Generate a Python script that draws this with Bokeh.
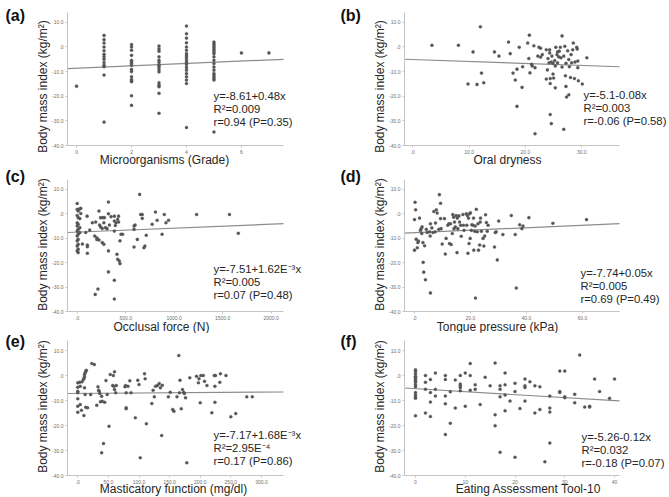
import math
from bokeh.plotting import figure
from bokeh.models import Label, FixedTicker, Range1d
from bokeh.layouts import column, row
from bokeh.embed import file_html
from bokeh.resources import INLINE

FONT = "Liberation Sans"

# ---------------- data ----------------
y_ticks = [-40, -30, -20, -10, 0, 10]
y_tick_labels = ["-40.0", "-30.0", "-20.0", "-10.0", ".0", "10.0"]
y_title = "Body mass index (kg/m²)"

# (a) Microorganisms (Grade)
a_g0 = [-15.9]
a_g1 = [4.7, 3.0, 1.6, 0.0, -1.5, -3.0, -4.0, -5.0, -6.3, -7.4, -8.0, -11.4, -30.5]
a_g2 = [1.0, 0.0, -1.3, -3.4, -5.4, -6.0, -6.7, -7.4, -9.1, -10.0, -12.1, -13.2, -13.7, -14.1, -19.8, -23.7]
a_g3 = [0.4, -0.7, -1.7, -4.0, -5.4, -6.3, -7.4, -8.1, -9.1, -10.1, -14.5, -15.5, -16.1, -18.8, -26.9]
a_g4 = [8.5, 5.4, 3.6, 1.7, 0.0, -1.3, -2.7, -3.6, -4.4, -5.4, -6.3, -7.1, -8.3, -9.4, -10.8, -12.1, -13.4, -14.8, -32.7]
a_g5 = [2.0, 1.3, 0.7, 0.0, -0.7, -1.3, -2.0, -2.7, -4.0, -5.4, -6.7, -8.1, -9.4, -10.8, -11.4, -12.1, -12.8, -13.4, -34.5]
a_g6 = [-2.4]
a_g7 = [-2.4]
a_groups = [a_g0, a_g1, a_g2, a_g3, a_g4, a_g5, a_g6, a_g7]
a_ticks = [0, 2, 4, 6]
a_tick_labels = ["0", "2", "4", "6"]

# (b) Oral dryness
b_points = [(3.4, 0.7), (8.1, 0.7), (10.7, -2.0), (12.0, 8.2), (12.2, -10.6), (9.8, -15.0), (11.4, -15.2),
            (12.6, -14.5), (14.5, -2.0), (15.3, -3.7), (17.0, 2.0), (17.3, -2.7), (17.8, -10.6), (18.2, -13.4),
            (18.5, -9.0), (18.5, -24.1), (18.9, -0.1), (19.5, -8.0), (19.4, -16.4), (20.4, 1.6), (20.7, 4.8),
            (20.6, -4.7), (20.8, -10.5), (21.1, -7.0), (21.2, -7.7), (21.5, 0.5), (21.7, -8.4), (21.7, -35.2),
            (22.2, -3.7), (22.4, -0.1), (22.7, -0.5), (23.0, -3.1), (22.7, -4.1), (23.7, -13.0), (23.9, -9.3),
            (24.0, -4.7), (24.2, -6.4), (24.3, -1.1), (24.3, -2.4), (24.4, -12.8), (24.4, -14.8), (24.4, -27.4),
            (24.6, -31.1), (24.6, -6.1), (24.7, -3.7), (24.9, -6.6), (24.9, -11.0), (25.0, -12.6), (25.2, -5.5),
            (25.3, -16.6), (25.3, -7.7), (25.4, -0.1), (25.6, -3.1), (25.7, -6.4), (25.9, -4.0), (26.0, -1.7),
            (26.2, -0.1), (26.3, -4.4), (26.5, 4.5), (26.5, -8.1), (26.8, -33.4), (26.8, -3.7), (27.0, 0.3),
            (27.1, -11.7), (27.2, -6.6), (27.2, -16.0), (27.3, -20.3), (27.5, -1.5), (27.7, -5.1), (27.7, -19.4),
            (27.8, -8.0), (28.0, -12.4), (28.1, -3.1), (28.2, -6.4), (28.4, -1.1), (28.5, 1.6), (28.7, -12.8),
            (28.8, -6.1), (29.1, -0.1), (29.2, -0.8), (29.3, -5.7), (29.3, -8.4), (29.4, -13.7), (30.1, -15.0),
            (30.9, -4.4), (23.7, -1.1), (25.7, -2.0)]
b_ticks = [0, 10, 20, 30]
b_tick_labels = [".0", "10.0", "20.0", "30.0"]

# (c) Occlusal force (N)
c_points = [(0, 4.2), (0, 1.8), (0, -0.7), (0, -3.7), (0, -5.0), (0, -7.1), (0, -9.1), (0, -11.1), (0, -13.2),
            (0, -15.2), (10, 1.1), (10, -1.6), (10, -4.3), (10, -6.4), (10, -8.4), (10, -10.5), (10, -12.5),
            (10, -14.5), (10, -15.9), (27, 2.0), (27, -2.0), (27, -5.7), (27, -7.7), (37, 2.2), (37, 0.1),
            (54, -12.4), (88, -7.7), (102, -1.0), (105, -12.8), (105, -13.5), (105, -16.2), (129, -6.7),
            (156, -3.7), (180, -9.1), (190, -3.4), (203, -9.8), (203, -10.5), (224, 1.1), (224, -10.7),
            (231, -4.6), (241, -1.6), (241, -5.4), (258, -6.0), (258, -11.8), (264, -1.6), (275, -3.7),
            (275, -12.5), (281, -1.6), (292, -5.7), (308, -6.1), (322, 4.8), (322, 0.0), (322, -15.2),
            (322, -23.8), (332, -4.6), (349, -1.2), (383, -1.0), (383, -3.0), (383, -7.1), (383, -27.2),
            (383, -34.9), (393, -4.8), (400, -3.7), (410, -16.6), (417, -2.3), (417, -18.6), (427, -1.0),
            (427, -3.4), (434, -19.3), (441, -11.1), (441, -20.4), (451, -8.4), (468, -8.4), (186, -33.0),
            (214, -30.8), (586, -13.6), (586, -6.4), (586, -5.0), (597, -4.6), (620, -10.5), (644, 7.9),
            (654, -0.3), (671, -1.9), (671, -0.3), (688, -13.9), (698, -13.2), (712, -8.8), (773, -4.3),
            (807, 0.7), (824, -2.7), (875, -8.4), (898, -0.3), (915, -3.7), (942, -2.7), (1231, -0.3),
            (1570, -0.3), (1661, -8.0)]
c_ticks = [0, 500, 1000, 1500, 2000]
c_tick_labels = [".0", "500.0", "1000.0", "1500.0", "2000.0"]

# (d) Tongue pressure (kPa)
d_points = [(0.0, -2.4), (0.2, 4.7), (0.4, 1.6), (0.6, -10.4), (0.0, -14.9), (1.0, -13.9), (1.2, -11.8),
            (1.4, -11.2), (1.8, -1.8), (2.1, -6.8), (2.4, -6.1), (2.6, -8.1), (2.7, -5.4), (3.0, -11.8),
            (3.1, -19.9), (3.3, -23.9), (3.6, -13.1), (3.9, -27.0), (4.2, -6.4), (4.5, -7.7), (5.4, -7.4),
            (5.7, -4.1), (5.6, -9.1), (5.7, -32.4), (6.2, -5.8), (6.6, -7.7), (6.9, 0.9), (7.4, -7.4),
            (7.5, -3.8), (7.8, 1.6), (8.1, 0.3), (8.7, -6.4), (8.9, 7.8), (9.3, -2.0), (9.3, 4.3), (9.5, -6.1),
            (9.9, -12.4), (10.7, -2.0), (11.0, -16.5), (11.3, -10.1), (11.9, -4.7), (12.3, -4.1), (12.5, -12.2),
            (12.9, -4.1), (13.1, -12.6), (13.5, -8.1), (13.7, -0.3), (14.0, -1.4), (14.1, -6.1), (14.3, -3.4),
            (14.6, -5.4), (14.9, -0.7), (15.2, -15.9), (15.3, -1.8), (15.5, -6.1), (15.9, -0.9), (16.1, -3.4),
            (16.5, -4.7), (16.7, -9.2), (17.3, -0.3), (17.5, -4.7), (17.7, -6.8), (18.5, 0.0), (18.7, -4.7),
            (18.9, -0.7), (19.1, -16.2), (19.3, -1.8), (19.5, -12.2), (19.7, 0.0), (19.9, -10.1), (20.0, 0.4),
            (20.3, -6.8), (20.5, -4.5), (20.9, -4.7), (21.1, -1.8), (21.2, -14.9), (21.5, -7.2), (21.7, -5.0),
            (21.8, -34.5), (22.1, 1.8), (22.4, -7.4), (22.7, -4.1), (22.9, -14.9), (23.3, -12.8), (23.5, -3.4),
            (23.6, -1.8), (23.9, -7.2), (24.5, -10.1), (24.8, -13.2), (25.1, -9.1), (25.4, -0.4), (25.7, -3.6),
            (26.0, -7.2), (26.3, -4.7), (28.6, -13.6), (28.9, -7.7), (29.2, -7.4), (29.6, -18.9), (30.1, -3.0),
            (31.6, -8.5), (34.6, -0.7), (36.0, -8.5), (36.4, -30.4), (37.6, -4.5), (38.4, -6.1), (38.8, -5.0),
            (40.9, -1.6), (49.5, -3.9), (61.5, -2.4)]
d_ticks = [0, 20, 40, 60]
d_tick_labels = [".0", "20.0", "40.0", "60.0"]

# (e) Masticatory function (mg/dl)
e_points = [(0, -2.9), (0, -4.7), (0, -6.3), (0, -6.9), (0, -9.3), (0, -12.3), (0, -14.7), (3, -2.7), (4, -4.3),
            (4, -11.6), (6, -13.9), (10, -16.0), (7, -2.5), (9, -1.6), (10, -1.2), (11, -0.5), (11, 0.4),
            (12, 1.1), (13, 1.6), (14, 2.1), (11, -4.9), (12, -7.6), (13, -12.7), (16, -12.9), (21, -7.6),
            (23, 4.8), (27, 4.4), (31, -11.9), (33, -4.5), (34, -5.9), (35, -6.3), (36, -7.2), (37, -10.5),
            (39, -8.3), (40, -10.3), (42, -27.2), (39, -30.9), (44, -10.7), (46, -2.0), (48, -7.6), (51, -20.3),
            (53, 0.4), (57, -4.0), (58, 0.0), (59, -4.3), (60, -5.6), (60, 1.5), (63, -4.0), (62, -6.9),
            (77, -4.5), (78, -4.0), (79, -6.9), (79, -12.9), (79, -13.3), (82, -4.3), (85, -2.1), (87, -6.9),
            (94, -16.9), (98, -1.9), (100, -3.6), (102, -32.9), (109, 0.7), (110, -1.3), (112, -19.3),
            (121, -11.2), (123, -5.9), (125, -8.5), (127, -4.3), (130, -4.0), (133, -3.2), (137, -24.0),
            (135, -4.9), (138, -3.9), (148, -8.5), (151, -6.7), (155, -13.6), (157, -14.3), (162, -8.5),
            (165, 8.0), (166, -6.9), (167, -1.9), (169, -13.3), (171, -5.6), (173, -6.7), (174, -7.2),
            (176, -8.9), (178, -34.9), (183, -0.9), (194, -0.3), (197, -2.9), (198, -1.3), (201, 0.0),
            (205, 0.0), (200, -10.9), (207, -2.3), (211, -4.0), (219, -14.9), (223, 0.0), (225, 0.0),
            (224, -4.3), (224, -10.7), (232, -2.7), (233, 0.7), (242, 0.0), (250, -16.5), (258, -15.2),
            (276, -8.5), (285, -8.5)]
e_ticks = [0, 50, 100, 150, 200, 250, 300]
e_tick_labels = [".0", "50.0", "100.0", "150.0", "200.0", "250.0", "300.0"]

# (f) Eating Assessment Tool-10
f_points = [(0, 2.3), (0, 1.6), (0, 0.7), (0, -0.3), (0, -0.7), (0, -1.4), (0, -2.0), (0, -2.7), (0, -3.7),
            (0, -4.5), (0, -6.8), (0, -7.8), (0, -8.6), (0, -9.1), (0, -16.1), (2, 0.0), (2, -2.7), (2, -5.5),
            (2, -15.0), (3, -1.6), (3, -6.8), (3, -10.6), (3, -16.4), (4, 1.0), (4, -5.5), (4, -8.2), (6, 0.0),
            (6, -1.6), (6, -8.2), (6, -11.3), (6, -23.6), (7, -6.5), (7, -19.1), (8, -1.8), (8, -13.0),
            (9, 0.0), (9, -3.4), (9, -4.1), (9, -4.8), (9, -6.1), (10, 1.0), (10, -12.3), (11, 4.8), (11, 0.0),
            (11, -5.9), (12, -3.7), (12, -5.5), (13, -11.6), (14, -0.7), (15, -4.1), (16, 5.0), (16, -15.7),
            (16, -20.1), (17, -4.1), (17, -5.5), (17, -8.5), (17, -30.7), (18, 1.0), (18, -3.7), (18, -7.8),
            (18, -14.1), (19, -10.2), (20, -3.1), (20, -6.4), (20, -32.7), (21, -13.2), (22, -1.4), (22, -4.1),
            (22, -4.8), (22, -10.2), (23, -2.5), (24, -4.1), (24, -15.0), (25, -4.5), (25, -13.6), (26, -34.5),
            (27, -8.2), (27, -13.0), (27, -14.6), (27, -27.0), (29, 1.8), (29, -6.4), (29, -6.8), (30, 1.8),
            (30, -8.5), (30, -8.9), (32, -7.5), (32, -10.9), (33, 8.2), (34, -12.6), (35, -12.3), (35, -12.6),
            (36, -1.4), (37, -6.4), (39, -9.1), (40, -1.4)]
f_ticks = [0, 10, 20, 30, 40]
f_tick_labels = ["0", "10", "20", "30", "40"]

# regression: intercept, slope
fits = {"a": (-8.61, 0.48), "b": (-5.1, -0.08), "c": (-7.51, 1.62e-3),
        "d": (-7.74, 0.05), "e": (-7.17, 1.68e-3), "f": (-5.26, -0.12)}
stats = {
    "a": ["y=-8.61+0.48x", "R²=0.009", "r=0.94 (P=0.35)"],
    "b": ["y=-5.1-0.08x", "R²=0.003", "r=-0.06 (P=0.58)"],
    "c": ["y=-7.51+1.62E⁻³x", "R²=0.005", "r=0.07 (P=0.48)"],
    "d": ["y=-7.74+0.05x", "R²=0.005", "r=0.69 (P=0.49)"],
    "e": ["y=-7.17+1.68E⁻³x", "R²=2.95E⁻⁴", "r=0.17 (P=0.86)"],
    "f": ["y=-5.26-0.12x", "R²=0.032", "r=-0.18 (P=0.07)"],
}
x_titles = {"a": "Microorganisms (Grade)", "b": "Oral dryness", "c": "Occlusal force (N)",
            "d": "Tongue pressure (kPa)", "e": "Masticatory function (mg/dl)", "f": "Eating Assessment Tool-10"}

a_x = [g for g, grp in enumerate(a_groups) for _ in grp]
a_y = [v for grp in a_groups for v in grp]

# ---------------- layout geometry (picture pixels) ----------------
cols = {0: dict(x0=0, w=335, fl=67, fr=283), 1: dict(x0=335, w=334, fl=404, fr=619)}
rows = {0: dict(y0=0, h=167, ft=12, fb=145), 1: dict(y0=167, h=166, ft=179, fb=311),
        2: dict(y0=333, h=164, ft=340, fb=475)}
Y0, Y1 = -40, 14

panels = [
    dict(key="a", col=0, row=0, xs=a_x, ys=a_y, xr=(-0.33, 7.53), ticks=a_ticks, labels=a_tick_labels,
         stat_x=213, stat_y=95, title_x=164, title_y=159, tag_x=5, tag_y=15, yt_y=86),
    dict(key="b", col=1, row=0, pts=b_points, xr=(-1.47, 36.7), ticks=b_ticks, labels=b_tick_labels,
         stat_x=583, stat_y=94, title_x=507, title_y=159, tag_x=340, tag_y=15, yt_y=86),
    dict(key="c", col=0, row=1, pts=c_points, xr=(-100, 2127), ticks=c_ticks, labels=c_tick_labels,
         stat_x=213, stat_y=268, title_x=161, title_y=326, tag_x=5, tag_y=176, yt_y=244),
    dict(key="d", col=1, row=1, pts=d_points, xr=(-3.58, 73.3), ticks=d_ticks, labels=d_tick_labels,
         stat_x=580, stat_y=272, title_x=497, title_y=326, tag_x=340, tag_y=176, yt_y=244),
    dict(key="e", col=0, row=2, pts=e_points, xr=(-16.8, 336), ticks=e_ticks, labels=e_tick_labels,
         stat_x=213, stat_y=434, title_x=173, title_y=488, tag_x=5, tag_y=341, yt_y=406),
    dict(key="f", col=1, row=2, pts=f_points, xr=(-2.21, 41.0), ticks=f_ticks, labels=f_tick_labels,
         stat_x=581, stat_y=436, title_x=528, title_y=488, tag_x=340, tag_y=341, yt_y=406),
]

figs = {}
for pn in panels:
    c = cols[pn["col"]]
    r = rows[pn["row"]]
    xr0, xr1 = pn["xr"]
    if "pts" in pn:
        xs = [q[0] for q in pn["pts"]]
        ys = [q[1] for q in pn["pts"]]
    else:
        xs, ys = pn["xs"], pn["ys"]

    # the frame fills the whole figure; the visible axes sit at fixed locations
    sx = (xr1 - xr0) / (c["fr"] - c["fl"])
    sy = (Y1 - Y0) / (r["fb"] - r["ft"])
    fx0 = xr0 - (c["fl"] - c["x0"]) * sx
    fx1 = xr1 + (c["x0"] + c["w"] - c["fr"]) * sx
    fy1 = Y1 + (r["ft"] - r["y0"]) * sy
    fy0 = Y0 - (r["y0"] + r["h"] - r["fb"]) * sy

    def dx(px, c=c, fx0=fx0, sx=sx):
        return fx0 + (px - c["x0"]) * sx

    def dy(py, r=r, fy1=fy1, sy=sy):
        return fy1 - (py - r["y0"]) * sy

    p = figure(width=c["w"], height=r["h"], x_range=Range1d(fx0, fx1), y_range=Range1d(fy0, fy1),
               output_backend="svg", toolbar_location=None,
               min_border=0, min_border_left=0, min_border_right=0, min_border_top=0, min_border_bottom=0)
    p.outline_line_color = None
    p.grid.visible = False
    p.background_fill_color = "white"
    p.border_fill_color = "white"

    for ax in (p.xaxis[0], p.yaxis[0]):
        ax.axis_line_color = "#c4c4c4"
        ax.major_tick_line_color = "#c4c4c4"
        ax.major_tick_out = 2
        ax.major_tick_in = 0
        ax.minor_tick_line_color = None
        ax.major_label_text_font = FONT
        ax.major_label_text_font_size = "5px"
        ax.major_label_text_color = "#707070"
        ax.major_label_standoff = 2
    p.xaxis[0].fixed_location = Y0
    p.xaxis[0].bounds = (xr0, xr1)
    p.yaxis[0].fixed_location = xr0
    p.yaxis[0].bounds = (Y0, Y1)
    p.xaxis[0].ticker = FixedTicker(ticks=pn["ticks"])
    p.xaxis[0].major_label_overrides = dict(zip(pn["ticks"], pn["labels"]))
    p.yaxis[0].ticker = FixedTicker(ticks=y_ticks)
    p.yaxis[0].major_label_overrides = dict(zip(y_ticks, y_tick_labels))

    a0, b1 = fits[pn["key"]]
    p.line([xr0, xr1], [a0 + b1 * xr0, a0 + b1 * xr1], line_color="#8c8c8c", line_width=1.2)
    p.scatter(xs, ys, size=3.1, marker="circle", fill_color="#555555", line_color="#555555", line_width=0.3)

    for i, s in enumerate(stats[pn["key"]]):
        p.add_layout(Label(x=dx(pn["stat_x"]), y=dy(pn["stat_y"] + i * 13.3), text=s,
                           text_font=FONT, text_font_size="11.3px", text_color="#262626",
                           text_baseline="middle", text_align="left"))
    # axis titles
    p.add_layout(Label(x=dx(pn["title_x"]), y=dy(pn["title_y"]), text=x_titles[pn["key"]],
                       text_font=FONT, text_font_size="12px", text_color="#262626",
                       text_baseline="middle", text_align="center"))
    p.add_layout(Label(x=dx(c["fl"] - 25), y=dy(pn["yt_y"]), text=y_title, angle=math.pi / 2,
                       text_font=FONT, text_font_size="12px", text_color="#262626",
                       text_baseline="middle", text_align="center"))
    # panel tag
    p.add_layout(Label(x=dx(pn["tag_x"]), y=dy(pn["tag_y"]),
                       text="(" + pn["key"] + ")", text_font=FONT, text_font_size="16px",
                       text_font_style="bold", text_color="#111111",
                       text_baseline="middle", text_align="left"))
    figs[pn["key"]] = p

layout = column(row(figs["a"], figs["b"]), row(figs["c"], figs["d"]), row(figs["e"], figs["f"]))
open("out.html", "w").write(file_html(layout, INLINE))
